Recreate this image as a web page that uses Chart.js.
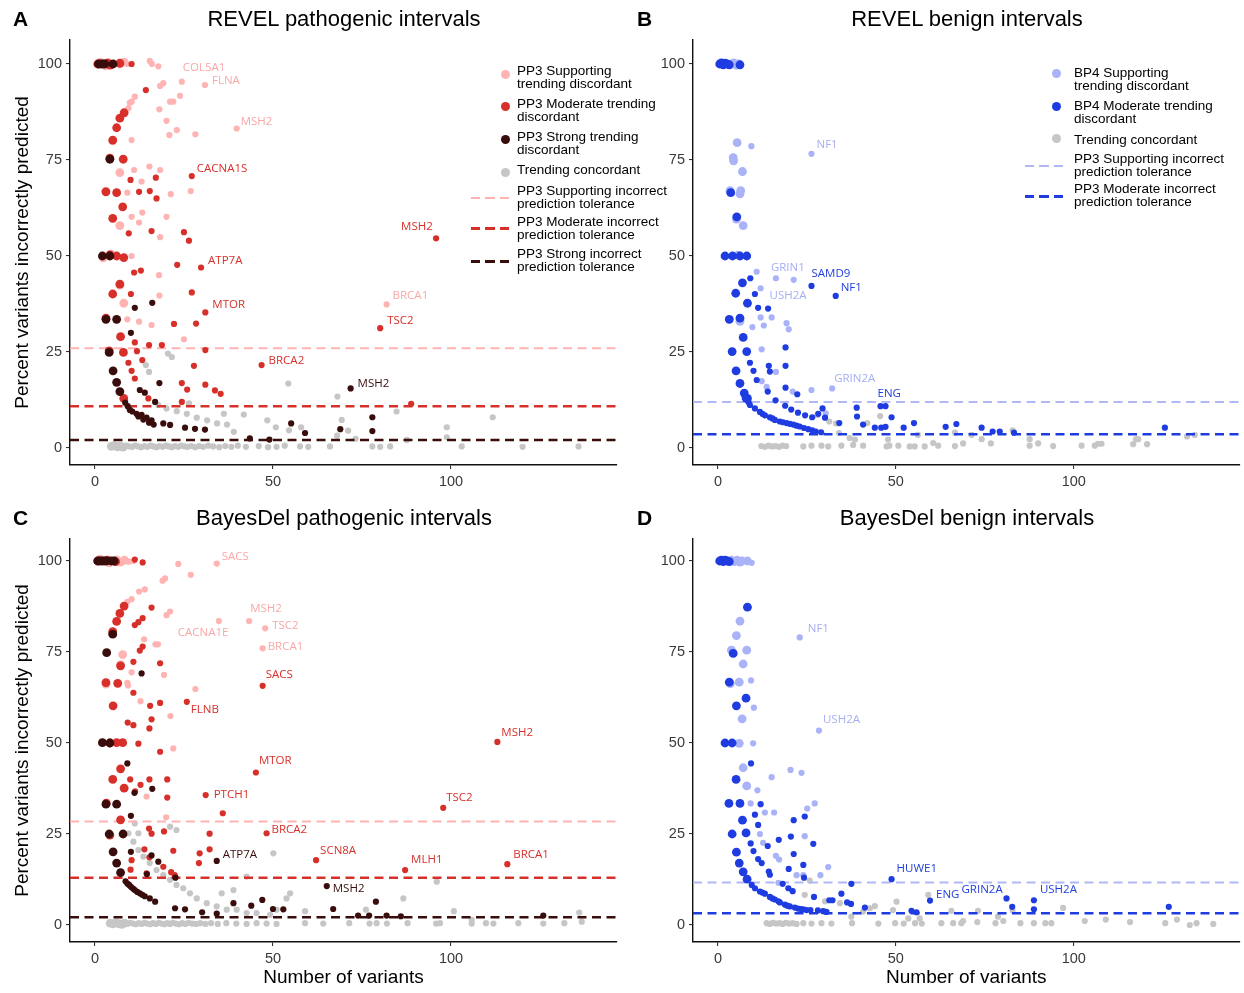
<!DOCTYPE html>
<html>
<head>
<meta charset="utf-8">
<title>REVEL / BayesDel intervals</title>
<script src="https://cdn.jsdelivr.net/npm/chart.js@4.4.1/dist/chart.umd.min.js"></script>
<style>
  html, body { margin:0; padding:0; background:#fff; }
  body { position:relative; width:1244px; height:993px; overflow:hidden; font-family:"Liberation Sans", Arial, sans-serif; color:#000; }
  canvas { position:absolute; }
  .letter { position:absolute; font-size:21px; font-weight:bold; line-height:24px; }
  .title { position:absolute; width:400px; text-align:center; font-size:22px; line-height:26px; }
  .lt { position:absolute; font-size:13.5px; line-height:13px; white-space:nowrap; }
  .dot { position:absolute; width:9px; height:9px; border-radius:50%; }
  .dash { position:absolute; width:38px; }
</style>
</head>
<body>
<canvas id="chartA" width="622" height="500" style="left:0;top:0"></canvas>
<canvas id="chartB" width="621" height="500" style="left:623px;top:0"></canvas>
<canvas id="chartC" width="622" height="496" style="left:0;top:497px"></canvas>
<canvas id="chartD" width="621" height="496" style="left:623px;top:497px"></canvas>

<div class="letter" style="left:13px;top:7px">A</div>
<div class="title" style="left:144px;top:6px">REVEL pathogenic intervals</div>
<div class="letter" style="left:637px;top:7px">B</div>
<div class="title" style="left:767px;top:6px">REVEL benign intervals</div>
<div class="letter" style="left:13px;top:506px">C</div>
<div class="title" style="left:144px;top:505px">BayesDel pathogenic intervals</div>
<div class="letter" style="left:637px;top:506px">D</div>
<div class="title" style="left:767px;top:505px">BayesDel benign intervals</div>

<!-- legend A -->
<div class="dot" style="left:500.5px;top:69.5px;background:#ffb3b3"></div>
<div class="lt" style="left:517px;top:64px">PP3 Supporting<br>trending discordant</div>
<div class="dot" style="left:500.5px;top:101.5px;background:#d7302a"></div>
<div class="lt" style="left:517px;top:97px">PP3 Moderate trending<br>discordant</div>
<div class="dot" style="left:500.5px;top:134.5px;background:#3a0d0d"></div>
<div class="lt" style="left:517px;top:130px">PP3 Strong trending<br>discordant</div>
<div class="dot" style="left:500.5px;top:167.5px;background:#c6c6c6"></div>
<div class="lt" style="left:517px;top:162.5px">Trending concordant</div>
<div class="dash" style="left:471px;top:196.7px;height:2px;background:repeating-linear-gradient(90deg,#ffb3b3 0 9px,transparent 9px 14.5px)"></div>
<div class="lt" style="left:517px;top:183.5px">PP3 Supporting incorrect<br>prediction tolerance</div>
<div class="dash" style="left:471px;top:226.8px;height:3px;background:repeating-linear-gradient(90deg,#d7302a 0 9px,transparent 9px 14.5px)"></div>
<div class="lt" style="left:517px;top:215px">PP3 Moderate incorrect<br>prediction tolerance</div>
<div class="dash" style="left:471px;top:260.2px;height:3px;background:repeating-linear-gradient(90deg,#3a0d0d 0 9px,transparent 9px 14.5px)"></div>
<div class="lt" style="left:517px;top:246.5px">PP3 Strong incorrect<br>prediction tolerance</div>

<!-- legend B -->
<div class="dot" style="left:1051.5px;top:68.8px;background:#aab2f8"></div>
<div class="lt" style="left:1074px;top:66px">BP4 Supporting<br>trending discordant</div>
<div class="dot" style="left:1051.5px;top:102.2px;background:#1e3ce0"></div>
<div class="lt" style="left:1074px;top:99px">BP4 Moderate trending<br>discordant</div>
<div class="dot" style="left:1051.5px;top:133.8px;background:#c6c6c6"></div>
<div class="lt" style="left:1074px;top:132.5px">Trending concordant</div>
<div class="dash" style="left:1025px;top:164.7px;height:2px;background:repeating-linear-gradient(90deg,#b0b8f8 0 9px,transparent 9px 14.5px)"></div>
<div class="lt" style="left:1074px;top:152px">PP3 Supporting incorrect<br>prediction tolerance</div>
<div class="dash" style="left:1025px;top:195.2px;height:3px;background:repeating-linear-gradient(90deg,#1e3ce0 0 9px,transparent 9px 14.5px)"></div>
<div class="lt" style="left:1074px;top:182px">PP3 Moderate incorrect<br>prediction tolerance</div>

<script>
// =====================
// DATOS  [numero de variantes, % incorrecto]
// =====================
const xTicks = [0, 50, 100];
const yTicks = [0, 25, 50, 75, 100];
const xLimits = [-7, 146.6];

// --- A: REVEL pathogenic ---
const aSupp = [
  [1.5,100.5],[3.0,99.5],[7.0,100],[8.2,100.5],[9.2,100],[15.4,100.8],[16.0,100],[17.8,99.4],
  [24.4,95.4],[30.9,94.5],[19.2,95.0],[18.3,94.3],[11.2,91.5],[10.3,90.2],[9.8,89.9],[21.1,90.2],[22.0,90.2],[23.9,91.7],
  [9.4,88.5],[18.1,88.2],[20.1,85.2],[23.0,82.8],[39.8,83.2],[20.9,81.5],[28.2,81.7],[10.3,80.2],[5.0,80.0],
  [7.0,71.7],[11.0,72.4],[15.3,73.3],[18.3,72.4],[13.1,69.4],[9.1,66.5],[3.0,66.9],[21.3,66.1],[26.9,66.9],
  [10.3,60.2],[13.3,61.3],[20.1,60.2],[7.0,57.9],[12.4,58.7],[18.3,54.9],[2.3,49.5],[4.5,50.5],[10.3,50.0],
  [18.0,45.0],[7.0,42.4],[18.1,39.7],[8.1,37.7],[9.1,33.5],[12.4,32.9],[15.9,32.0],[25.0,28.3],[81.9,37.4]
];
const aMod = [
  [0.8,100],[3.6,100.3],[4.3,99.7],[7.0,100.2],[10.3,100],
  [14.3,93.2],[8.2,87.3],[7.0,85.9],[6.1,83.4],[5.0,80.2],[4.2,75.5],[7.95,75.2],[27.2,70.8],[17.1,70.4],[10.0,69.8],
  [3.1,66.7],[6.1,66.5],[12.4,66.7],[15.4,66.9],[17.3,65.0],[7.8,62.8],[5.0,59.8],[9.5,55.9],[15.9,56.5],[25.0,56.2],
  [26.4,54.0],[4.2,50.3],[6.1,50.0],[8.1,49.6],[23.1,47.7],[29.8,47.0],[11.0,45.7],[12.9,46.2],[7.0,42.7],[5.0,40.1],
  [10.1,40.1],[27.2,40.5],[31.0,35.3],[3.1,33.8],[22.2,32.3],[28.4,32.4],[7.2,29.0],[11.2,27.5],[15.2,26.8],[18.8,26.8],
  [4.0,25.3],[8.0,24.9],[11.8,25.2],[31.0,25.5],[13.3,22.9],[46.8,21.6],[27.8,21.4],[9.4,22.2],[10.3,20.1],[11.2,18.1],
  [24.4,16.9],[31.0,16.5],[25.9,15.2],[33.7,15.0],[35.3,14.1],[8.1,12.9],[15.0,12.9],[24.4,12.0],
  [95.8,54.6],[80.1,31.2],[88.8,11.5]
];
const aStrong = [
  [1.0,100],[1.6,100],[2.2,100],[2.8,100],[5.1,100],[4.2,75.2],[2.1,50],[4.2,50],[11.2,36.5],[16.1,37.8],
  [3.1,33.5],[6.1,33.5],[10.1,30.0],[4.0,24.9],[5.1,20.1],[6.1,17.1],[18.1,16.9],[7.0,14.7],[12.6,15.1],[14.0,14.4],
  [16.9,12.0],[8.5,11.8],[9.2,10.9],[9.8,9.9],[10.5,9.5],[11.7,8.9],[12.2,8.2],[13.1,8.6],[13.6,7.4],[14.5,7.9],
  [15.2,6.6],[15.9,7.2],[16.5,6.1],[19.2,6.4],[21.1,6.0],[25.3,5.3],[28.1,5.0],[30.9,4.8],[43.5,2.5],[49.0,2.2],
  [55.1,6.4],[71.8,15.5],[77.9,8.0],[68.9,4.9],[77.9,4.4],[59.0,3.9]
];
const aConc = [
  [20.5,24.6],[21.6,23.7],[14.3,21.6],[15.2,19.8],[54.3,16.8],[17.8,11.2],[26.4,11.6],
  [20.1,10.3],[23.0,9.6],[25.8,8.9],[28.6,7.9],[31.5,7.2],[34.3,6.4],[37.1,6.1],[36.2,8.9],[39.0,4.2],[41.8,8.7],
  [48.4,7.2],[50.8,5.4],[54.5,4.6],[68.1,13.4],[84.7,9.5],[69.3,7.3],[111.7,8.0],[98.8,5.4],[71.1,4.5],[57.9,5.4],
  [68.0,3.2],[98.8,2.8],[87.6,2.1],[73.2,2.4],
  [4.6,0.4],[5.4,0.6],[6.3,0.3],[7.1,0.5],[7.9,0.2],[8.8,0.6],[9.6,0.4],[10.5,0.3],[11.3,0.6],[12.2,0.4],[13.0,0.2],
  [13.9,0.5],[14.7,0.3],[15.6,0.6],[16.4,0.4],[17.3,0.2],[18.1,0.5],[19.0,0.3],[19.9,0.6],[20.8,0.4],[21.6,0.2],
  [22.5,0.5],[23.4,0.3],[24.3,0.6],[25.2,0.4],[26.0,0.3],[27.0,0.5],[28.1,0.2],[29.3,0.5],[30.4,0.3],[31.8,0.6],
  [33.2,0.4],[34.9,0.2],[36.6,0.5],[38.3,0.3],[40.1,0.6],[42.4,0.3],[46.0,0.5],[48.6,0.2],[51.0,0.3],[53.3,0.6],
  [57.6,0.4],[59.9,0.3],[66.0,0.4],[77.9,0.4],[80.1,0.3],[82.9,0.4],[103.0,0.4],[120.1,0.3],[135.8,0.4]
];
const aTol = [26.0, 10.9, 2.1];

// --- B: REVEL benign ---
const bSupp = [
  [3.8,100],[4.5,100.3],[5.2,99.7],[5.7,100],
  [5.4,79.5],[9.4,78.6],[26.3,76.6],[4.3,75.6],[4.4,74.8],[6.9,72.0],[3.4,67.0],[6.4,67.0],[6.2,66.2],[5.2,59.6],
  [7.1,57.9],[5.6,50.2],[10.9,45.9],[16.3,44.2],[21.3,43.8],[12.0,41.6],[12.0,34.0],[15.1,34.0],[6.2,33.0],[12.9,31.9],
  [19.3,32.5],[19.9,30.9],[9.7,31.5],[12.3,25.7],[16.3,19.8],[12.3,17.4],[13.7,15.9],[21.0,14.7],[26.3,15.1],[32.1,15.5],
  [30.3,9.0]
];
const bMod = [
  [0.5,100],[1.0,100.3],[1.5,99.8],[2.0,100.2],[2.6,100],[3.2,99.8],[6.2,99.8],
  [3.6,66.5],[5.3,60.2],[2.0,50],[4.1,50],[6.2,50],[8.1,50],[26.3,42.2],[33.1,39.6],[9.1,44.2],[6.9,43.0],[5.0,40.3],
  [10.4,40.1],[8.3,37.7],[11.3,36.5],[14.1,36.3],[3.2,33.5],[6.2,33.8],[7.1,28.8],[19.0,26.2],[4.0,25.1],[8.1,25.1],
  [9.0,22.2],[14.3,21.4],[19.0,21.4],[5.1,20.1],[10.0,20.1],[14.6,19.9],[6.2,16.8],[10.9,17.7],[19.0,15.7],[14.0,14.7],
  [22.3,14.0],[7.4,14.3],[7.9,13.0],[8.3,12.9],[8.6,11.9],[16.2,12.4],[18.9,11.0],[20.6,10.0],[22.5,9.2],[24.5,8.5],
  [26.5,8.0],[28.2,8.9],[29.4,10.3],[30.1,7.9],[39.0,10.5],[45.7,10.9],[47.1,10.9],[39.1,8.2],[48.8,8.0],
  [9.0,11.2],[10.4,10.3],[11.8,9.4],[12.5,8.9],[13.2,8.5],[14.6,8.0],[15.3,7.7],[16.0,7.3],[17.4,6.9],[18.3,6.7],
  [19.3,6.5],[20.2,6.3],[21.2,6.1],[22.1,5.8],[23.0,5.6],[24.2,5.2],[25.4,4.9],[26.5,4.6],[27.5,4.3],[29.0,4.1],
  [34.1,6.5],[40.8,6.1],[44.1,5.3],[45.9,5.3],[47.1,5.5],[52.2,5.3],[55.1,6.5],[64.0,5.5],[67.0,6.25],[74.1,5.3],
  [77.2,4.3],[79.2,4.3],[83.2,4.0],[125.6,5.3]
];
const bConc = [
  [12.2,0.5],[13.2,0.3],[14.2,0.6],[15.2,0.4],[16.2,0.5],[17.2,0.3],[18.2,0.6],[19.2,0.5],[24.0,0.4],[26.3,0.6],
  [29.1,0.6],[31.0,0.4],[34.7,0.6],[38.0,0.8],[40.8,0.6],[47.4,0.4],[48.2,0.6],[50.7,0.6],[53.9,0.4],[55.3,0.4],
  [58.1,0.4],[61.9,0.6],[66.6,0.5],[68.9,1.2],[74.1,2.3],[76.7,1.2],[87.6,2.3],[87.6,0.6],[90.0,1.2],[94.2,0.5],
  [102.2,0.6],[105.9,0.6],[106.8,1.1],[107.8,1.1],[116.7,1.0],[117.5,2.3],[118.1,2.3],[120.6,1.0],[131.8,3.0],[134.0,3.4],
  [66.6,4.0],[71.3,3.4],[82.8,4.6],[45.6,8.3],[31.3,6.9],[34.0,3.9],[37.0,2.6],[38.5,2.2],[42.0,6.5],[47.8,2.2],
  [56.2,3.4],[60.5,1.3],[33.2,6.4],[28.0,8.6]
];
const bTol = [12.0, 3.6];

// --- C: BayesDel pathogenic ---
const cSupp = [
  [1.5,100.5],[4.0,99.5],[6.1,100.3],[7.2,99.7],[8.3,100.2],[9.5,99.8],[10.8,100],[23.4,99.2],[34.2,99.3],
  [26.9,96.2],[19.7,95.2],[19.0,94.6],[14.0,92.2],[12.4,91.6],[10.3,89.5],[9.1,88.8],[20.1,85.1],[21.1,86.1],
  [34.8,83.5],[43.3,83.5],[47.8,81.5],[47.1,76.0],[13.8,78.5],[17.0,77.1],[17.7,77.1],[5.0,80.3],[7.8,74.3],[7.2,71.5],
  [10.3,69.4],[19.4,68.7],[3.1,66.2],[9.1,66.5],[9.3,65.8],[28.2,64.8],[12.8,61.5],[21.2,57.4],[22.0,48.5],[14.5,35.3],
  [20.0,29.6]
];
const cMod = [
  [0.8,100],[3.5,100.2],[5.8,99.8],[11.2,100.4],[13.4,99.6],
  [15.9,87.2],[13.4,84.3],[12.2,83.2],[11.2,82.4],[8.2,87.6],[7.0,85.6],[6.1,83.4],[5.0,80.6],[13.4,76.5],[12.6,75.4],
  [7.2,71.2],[10.8,72.3],[18.3,71.9],[47.1,65.7],[3.1,66.6],[6.4,66.4],[10.8,63.8],[15.5,60.2],[18.3,61.0],[25.8,61.3],
  [5.1,60.2],[15.9,56.5],[15.3,54.0],[9.2,55.6],[10.8,54.9],[4.2,50.0],[6.1,50.1],[7.8,50.1],[12.2,49.8],[18.3,47.6],
  [7.2,42.9],[45.2,41.9],[5.0,40.0],[9.9,40.0],[15.3,40.0],[20.3,40.0],[8.2,37.6],[12.8,38.5],[11.3,36.7],[20.3,35.0],
  [31.1,35.7],[3.2,33.5],[35.9,30.7],[7.2,28.9],[48.2,25.2],[15.2,26.5],[19.4,25.7],[15.9,25.1],[32.2,25.1],[4.2,24.7],
  [13.9,20.8],[22.0,20.4],[29.4,19.7],[32.2,20.8],[29.2,17.0],[10.3,17.8],[15.3,18.6],[19.2,16.0],[10.0,15.2],[14.5,14.2],
  [21.4,14.5],[22.4,13.7],[113.0,50.3],[97.8,32.2],[62.1,17.8],[87.1,15.1],[115.8,16.7]
];
const cStrong = [
  [0.8,100],[1.4,100],[2.0,100],[2.6,100],[3.2,100],[4.6,100],[5.4,100],
  [5.0,79.9],[3.3,74.8],[13.1,69.1],[2.1,50.1],[4.2,50],[9.1,44.4],[16.1,37.4],[11.1,36.3],[3.1,33.2],[6.1,33.2],
  [10.1,30.0],[4.0,25.0],[7.9,25.0],[5.1,20.1],[10.1,20.1],[15.9,19.1],[34.2,17.6],[6.1,17.0],[17.8,17.4],[7.2,14.4],
  [14.6,14.0],[22.6,13.0],[8.6,12.0],[9.1,11.4],[9.6,11.0],[10.1,10.5],[10.7,10.0],[11.2,9.6],[11.9,9.1],[12.6,8.7],
  [13.3,8.3],[14.0,7.9],[15.4,7.3],[16.9,6.4],[22.5,4.6],[25.3,4.3],[30.1,3.5],[34.2,3.1],[38.9,6.0],[43.9,5.3],
  [47.0,6.9],[50.0,4.4],[52.9,4.3],[65.1,10.7],[66.9,4.4],[78.9,6.4],[73.9,2.6],[77.0,2.6],[81.9,2.6],[85.9,2.4],
  [125.9,2.6]
];
const cConc = [
  [9.4,25.2],[12.2,25.2],[11.2,27.9],[21.1,27.0],[22.9,26.1],[10.8,22.9],[12.2,20.6],[13.6,18.8],[15.4,17.0],[17.3,15.1],
  [19.2,13.7],[21.1,12.4],[22.9,11.0],[24.8,10.1],[26.7,8.7],[28.6,7.3],[31.4,6.0],[34.2,5.1],[37.0,4.2],[39.8,4.2],
  [42.6,3.3],[45.4,3.3],[49.2,2.8],[51.0,4.2],[53.8,7.3],[54.8,8.7],[35.6,8.7],[38.9,9.6],[42.6,13.3],[50.1,19.7],
  [59.0,3.8],[100.8,3.8],[76.1,4.2],[96.0,11.9],[86.6,7.3],[136.0,3.4],[105.8,1.4],
  [4.3,0.5],[5.1,0.3],[5.9,0.6],[6.7,0.4],[7.5,0.2],[8.3,0.5],[9.1,0.3],[9.9,0.6],[10.7,0.4],[11.5,0.2],[12.3,0.5],
  [13.1,0.3],[13.9,0.6],[14.7,0.4],[15.5,0.2],[16.3,0.5],[17.1,0.3],[17.9,0.6],[18.7,0.4],[19.5,0.2],[20.3,0.5],
  [21.1,0.3],[21.9,0.6],[22.7,0.4],[23.6,0.2],[24.5,0.5],[25.4,0.3],[26.3,0.6],[27.3,0.4],[28.4,0.3],[29.6,0.5],
  [31.0,0.3],[32.6,0.5],[34.5,0.3],[36.9,0.5],[39.7,0.4],[42.6,0.3],[45.4,0.5],[48.2,0.4],[51.0,0.3],[59.0,0.5],
  [64.1,0.4],[71.4,0.5],[77.1,0.4],[79.1,0.5],[82.0,0.4],[87.8,0.5],[95.8,0.4],[96.9,0.5],[105.8,0.4],[109.8,0.5],
  [111.9,0.4],[118.9,0.5],[125.9,0.4],[131.8,0.5],[136.7,0.9]
];
const cTol = [28.4, 13.0, 2.1];

// --- D: BayesDel benign ---
const dSupp = [
  [3.8,100.2],[4.6,99.8],[5.4,100.2],[6.2,99.7],[6.8,100],[8.3,100],[9.5,99.5],
  [6.2,83.5],[5.2,79.5],[23.0,79.0],[3.8,75.5],[8.1,75.5],[7.1,71.7],[6.0,66.7],[9.3,67.2],[3.5,66.3],[10.1,59.7],
  [6.8,56.6],[28.4,53.4],[6.0,49.9],[9.9,49.9],[7.1,43.2],[20.4,42.6],[23.5,41.8],[15.1,40.6],[8.1,38.2],[11.1,37.0],
  [9.2,33.4],[27.2,33.4],[25.1,32.0],[13.2,30.9],[15.8,30.9],[24.4,24.4],[12.7,22.6],[11.8,25.0],[16.3,19.0],[17.2,18.0],
  [31.0,15.9],[22.1,13.7],[28.8,13.7],[24.0,13.7],[17.0,11.6]
];
const dMod = [
  [0.5,100],[1.0,100.2],[1.5,99.8],[2.0,100.2],[2.6,100],[3.2,99.8],
  [8.3,87.3],[4.3,74.6],[3.2,66.7],[7.9,62.3],[5.2,60.2],[2.0,50],[4.0,50],[9.3,44.4],[5.1,40.0],[3.1,33.4],[6.2,33.4],
  [12.0,33.2],[10.4,30.3],[6.9,28.8],[21.3,28.8],[24.4,29.8],[11.3,27.5],[4.0,25.0],[7.9,25.3],[20.5,24.3],[17.1,23.4],
  [26.8,22.3],[9.2,22.4],[14.0,21.7],[5.2,20.0],[10.0,20.3],[21.3,19.5],[11.3,18.1],[12.3,17.0],[6.0,17.0],[24.0,16.5],
  [19.9,15.4],[14.3,14.7],[14.6,13.8],[7.1,14.6],[24.2,13.0],[8.2,12.6],[37.5,11.3],[48.8,12.6],
  [9.5,11.0],[10.4,10.1],[11.8,9.2],[12.5,8.9],[13.2,8.6],[14.6,7.7],[15.3,7.3],[16.0,7.0],[17.0,6.5],[17.4,6.2],
  [18.8,5.6],[19.5,5.3],[20.2,5.1],[21.6,4.8],[22.5,4.5],[23.3,4.4],[24.0,4.3],[24.9,4.1],[26.0,4.1],[28.1,4.0],
  [29.6,3.8],[30.5,3.6],[18.2,11.3],[19.8,10.1],[21.0,9.3],[34.7,8.6],[27.0,7.7],[31.3,6.8],[32.2,6.8],[36.3,6.2],
  [37.4,5.8],[41.3,4.8],[59.6,6.7],[54.4,3.9],[55.8,3.5],[81.1,7.3],[82.7,5.0],[88.8,6.8],[88.8,4.3],[126.7,5.0]
];
const dConc = [
  [13.7,0.5],[14.6,0.3],[15.5,0.6],[16.4,0.4],[17.3,0.5],[18.2,0.3],[19.1,0.6],[20.0,0.4],[21.0,0.5],[22.1,0.3],
  [24.0,0.5],[26.3,0.4],[29.1,0.5],[31.9,0.4],[37.7,0.5],[45.1,0.4],[49.8,0.5],[52.2,0.4],[55.4,0.5],[57.3,0.4],[62.8,0.5],
  [25.8,12.2],[24.4,8.3],[30.1,6.5],[34.3,6.0],[37.5,2.3],[40.8,3.7],[42.7,4.6],[44.1,5.2],[49.2,4.1],[50.2,6.4],
  [53.5,1.8],[59.1,8.3],[56.7,1.8],
  [65.6,3.9],[66.1,0.5],[68.4,0.5],[68.9,1.1],[72.9,0.8],[73.1,3.9],[78.0,0.5],[78.7,2.3],[80.2,1.1],[82.8,4.0],
  [85.0,0.5],[88.8,0.5],[92.0,0.5],[93.7,0.5],[97.0,4.7],[103.1,1.1],[109.0,1.5],[115.8,0.8],[125.7,0.5],[129.0,1.5],
  [132.6,0.0],[134.5,0.5],[139.2,0.3]
];
const dTol = [11.7, 3.2];

// --- etiquetas de genes [texto, serie, x, y] ---
const aLabels = [["COL5A1","supp",24.4,95.4],["FLNA","supp",30.9,94.5],["MSH2","supp",39.8,83.2],["CACNA1S","mod",27.2,70.8],
  ["ATP7A","mod",29.8,47.0],["MTOR","mod",31.0,35.3],["BRCA2","mod",46.8,21.6],["MSH2","strong",71.8,15.5],
  ["MSH2","mod",95.8,54.6],["BRCA1","supp",81.9,37.4],["TSC2","mod",80.1,31.2]];
const bLabels = [["NF1","supp",26.3,76.6],["GRIN1","supp",16.3,44.2],["SAMD9","mod",26.3,42.2],["NF1","mod",33.1,39.6],
  ["USH2A","supp",12.0,41.6],["GRIN2A","supp",32.1,15.5],["ENG","mod",45.7,10.9]];
const cLabels = [["SACS","supp",34.2,99.3],["MSH2","supp",43.3,83.5],["TSC2","supp",47.8,81.5],["CACNA1E","supp",34.8,83.5],
  ["BRCA1","supp",47.1,76.0],["SACS","mod",47.1,65.7],["FLNB","mod",25.8,61.3],["MTOR","mod",45.2,41.9],
  ["PTCH1","mod",31.1,35.7],["BRCA2","mod",48.2,25.2],["ATP7A","strong",34.2,17.6],["SCN8A","mod",62.1,17.8],
  ["MLH1","mod",87.1,15.1],["MSH2","strong",65.1,10.7],["TSC2","mod",97.8,32.2],["MSH2","mod",113.0,50.3],
  ["BRCA1","mod",115.8,16.7]];
const dLabels = [["NF1","supp",23.0,79.0],["USH2A","supp",28.4,53.4],["HUWE1","mod",48.8,12.6],["ENG","mod",59.6,6.7],
  ["GRIN2A","mod",81.1,7.3],["USH2A","mod",88.8,6.8]];

// desplazamiento del texto respecto al punto (px)
const aLabelOffsets = [[1,-14],[7,-4],[4,-7],[5,-7],[7,-7],[7,-8],[7,-4],[7,-5],[-35,-12],[6,-9],[7,-7]];
const bLabelOffsets = [[5,-9],[-5,-11],[0,-12],[5,-8],[9,7],[2,-10],[-3,-12]];
const cLabelOffsets = [[5,-7],[1,-12],[7,-3],[-41,12],[5,-2],[3,-11],[4,8],[3,-12],[8,0],[5,-4],[6,-6],[4,-9],[6,-10],[6,3],[3,-10],[4,-9],[6,-9]];
const dLabelOffsets = [[8,-9],[4,-11],[5,-10],[6,-6],[-45,-9],[6,-11]];

// =====================
// COLORES
// =====================
const RED = { supp: "#ffb3b3", mod: "#d7302a", strong: "#3a0d0d" };
const RED_TXT = { supp: "#f9a8a8", mod: "#d7302a", strong: "#3a0d0d" };
const BLUE = { supp: "#aab2f8", mod: "#1e3ce0" };
const BLUE_TXT = { supp: "#a6aef2", mod: "#2340dc" };
const GREY = "#c6c6c6";

Chart.defaults.font.family = "'Liberation Sans', Arial, sans-serif";

const toXY = arr => arr.map(([x, y]) => ({ x, y }));

// =====================
// PLUGIN ETIQUETAS
// =====================
const geneLabels = {
    id: "geneLabels",
    afterDatasetsDraw(chart, args, opts) {
        const { ctx, scales } = chart;
        ctx.save();
        ctx.font = "11.5px 'Open Sans', sans-serif";
        ctx.textBaseline = "middle";
        ctx.textAlign = "left";
        opts.items.forEach((it, i) => {
            const [text, serie, vx, vy] = it;
            const [dx, dy] = opts.offsets[i];
            ctx.fillStyle = opts.colors[serie];
            ctx.fillText(text, scales.x.getPixelForValue(vx) + dx, scales.y.getPixelForValue(vy) + dy);
        });
        ctx.restore();
    }
};

// =====================
// PANEL
// =====================
function panel(id, p) {
    const radius = ctx => (ctx.raw && ctx.raw.x < 8.5 ? 4.4 : 3.1);
    const pointSet = (data, color) => ({
        data: toXY(data),
        backgroundColor: color,
        borderWidth: 0,
        pointRadius: radius,
        pointHoverRadius: radius
    });
    const lineSet = (t) => ({
        data: [{ x: xLimits[0], y: t.v }, { x: xLimits[1], y: t.v }],
        showLine: true,
        borderColor: t.color,
        borderWidth: t.w,
        borderDash: [9, 5.5],
        borderCapStyle: "butt",
        pointRadius: 0
    });

    const datasets = [];
    p.points.forEach(s => datasets.push(pointSet(s.data, s.color)));
    p.tol.forEach(t => datasets.push(lineSet(t)));
    datasets.push(pointSet(p.conc, GREY));

    const tickFont = { size: 14.5 };
    const axisGrid = { display: true, drawOnChartArea: false, drawTicks: true, tickLength: 4, color: "#333", lineWidth: 1.1 };
    const axisBorder = { display: true, color: "#111", width: 1.4 };

    new Chart(document.getElementById(id), {
        type: "scatter",
        data: { datasets },
        plugins: [geneLabels],
        options: {
            responsive: false,
            animation: false,
            events: [],
            devicePixelRatio: 1,
            layout: { padding: p.padding },
            plugins: {
                legend: { display: false },
                tooltip: { enabled: false },
                geneLabels: { items: p.labels, offsets: p.offsets, colors: p.labelColors }
            },
            scales: {
                x: {
                    type: "linear",
                    min: xLimits[0],
                    max: xLimits[1],
                    afterBuildTicks: s => { s.ticks = xTicks.map(v => ({ value: v })); },
                    afterFit: s => { s.height = p.xH; },
                    grid: axisGrid,
                    border: axisBorder,
                    ticks: { font: tickFont, color: "#3a3a3a", padding: 4, maxRotation: 0 },
                    title: {
                        display: !!p.xTitle,
                        text: p.xTitle || "",
                        font: { size: 19 },
                        color: "#000",
                        padding: { top: 0, bottom: 3 }
                    }
                },
                y: {
                    type: "linear",
                    min: p.yLimits[0],
                    max: p.yLimits[1],
                    afterBuildTicks: s => { s.ticks = yTicks.map(v => ({ value: v })); },
                    afterFit: s => { s.width = 70; },
                    grid: axisGrid,
                    border: axisBorder,
                    ticks: { font: tickFont, color: "#3a3a3a", padding: 4 },
                    title: {
                        display: !!p.yTitle,
                        text: p.yTitle || "",
                        font: { size: 19 },
                        color: "#000",
                        padding: { top: 11, bottom: 0 }
                    }
                }
            }
        }
    });
}

const Y_TITLE = "Percent variants incorrectly predicted";
const X_TITLE = "Number of variants";

panel("chartA", {
    points: [
        { data: aStrong, color: RED.strong },
        { data: aMod, color: RED.mod },
        { data: aSupp, color: RED.supp }
    ],
    conc: aConc,
    tol: [
        { v: aTol[0], color: RED.supp, w: 2 },
        { v: aTol[1], color: RED.mod, w: 2.5 },
        { v: aTol[2], color: RED.strong, w: 2.5 }
    ],
    labels: aLabels, offsets: aLabelOffsets, labelColors: RED_TXT,
    yLimits: [-4.43, 106.25],
    padding: { top: 40, right: 5, bottom: 0, left: 0 },
    xH: 35,
    yTitle: Y_TITLE
});

panel("chartB", {
    points: [
        { data: bMod, color: BLUE.mod },
        { data: bSupp, color: BLUE.supp }
    ],
    conc: bConc,
    tol: [
        { v: bTol[0], color: "#b0b8f8", w: 2 },
        { v: bTol[1], color: BLUE.mod, w: 2.5 }
    ],
    labels: bLabels, offsets: bLabelOffsets, labelColors: BLUE_TXT,
    yLimits: [-4.43, 106.25],
    padding: { top: 40, right: 4, bottom: 0, left: 0 },
    xH: 35
});

panel("chartC", {
    points: [
        { data: cStrong, color: RED.strong },
        { data: cMod, color: RED.mod },
        { data: cSupp, color: RED.supp }
    ],
    conc: cConc,
    tol: [
        { v: cTol[0], color: RED.supp, w: 2 },
        { v: cTol[1], color: RED.mod, w: 2.5 },
        { v: cTol[2], color: RED.strong, w: 2.5 }
    ],
    labels: cLabels, offsets: cLabelOffsets, labelColors: RED_TXT,
    yLimits: [-4.67, 106.04],
    padding: { top: 42, right: 5, bottom: 1, left: 0 },
    xH: 50,
    yTitle: Y_TITLE,
    xTitle: X_TITLE
});

panel("chartD", {
    points: [
        { data: dMod, color: BLUE.mod },
        { data: dSupp, color: BLUE.supp }
    ],
    conc: dConc,
    tol: [
        { v: dTol[0], color: "#b0b8f8", w: 2 },
        { v: dTol[1], color: BLUE.mod, w: 2.5 }
    ],
    labels: dLabels, offsets: dLabelOffsets, labelColors: BLUE_TXT,
    yLimits: [-4.67, 106.04],
    padding: { top: 42, right: 4, bottom: 1, left: 0 },
    xH: 50,
    xTitle: X_TITLE
});
</script>
</body>
</html>
